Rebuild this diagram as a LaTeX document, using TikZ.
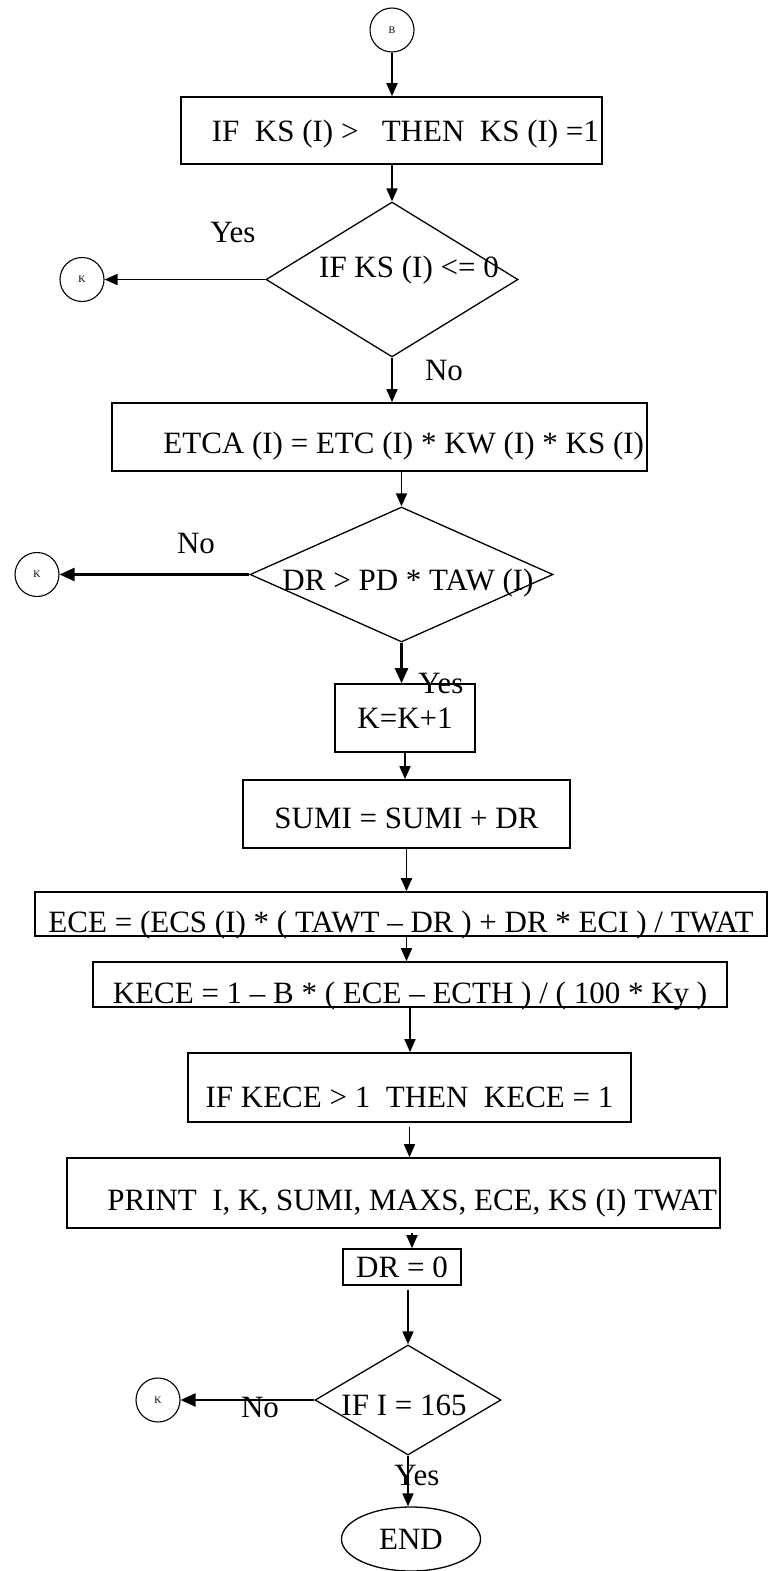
\documentclass[tikz,border=0pt]{standalone}
\usepackage{fontspec}
\setmainfont{Liberation Serif}
\usepackage{tikz}
\usetikzlibrary{shapes.geometric, arrows.meta}

\tikzset{
  procbox/.style={draw, line width=1.6pt, inner xsep=3pt, inner ysep=0pt, text height=21pt, text depth=0pt, font=\fontsize{31}{36}\selectfont},
  decision/.style={draw, diamond, line width=1.3pt, inner sep=0pt},
  conn/.style={draw, circle, line width=1.1pt, minimum size=44pt, inner sep=0pt, font=\fontsize{10}{12}\selectfont},
  lbl/.style={inner sep=0pt, text height=21pt, text depth=0pt, font=\fontsize{31}{36}\selectfont},
  flow/.style={-{Triangle[length=13pt,width=11pt]}, line width=1.6pt},
  boldflow/.style={-{Triangle[length=15pt,width=13pt]}, line width=2.4pt},
}
\newcommand{\rightin}[2]{\makebox[#1][r]{#2}}

\begin{document}
\begin{tikzpicture}[x=1pt, y=-1pt]
  \useasboundingbox (0,0) rectangle (769,1571);
  \node[conn] (conB) at (392,30) {B};
  \node[procbox, minimum width=421pt, minimum height=67pt] (ksmax) at (391.5,130.5) {\rightin{415pt}{IF~~KS (I) >~~~THEN~~KS (I) =1}};
  \node[decision, minimum width=252pt, minimum height=155pt] (ksneg) at (392,279.5) {};
  \node[lbl] (ksnegtxt) at (409,267) {IF KS (I) <= 0};
  \node[conn] (kone) at (82,279.5) {K};
  \node[lbl] (yesone) at (233,232) {Yes};
  \node[lbl] (noone) at (444,370) {No};

  \node[procbox, minimum width=535pt, minimum height=68pt, text height=33pt] (etca) at (379.5,437) {\rightin{529pt}{ETCA (I) = ETC (I) * KW (I) * KS (I)}};
  \node[decision, minimum width=303pt, minimum height=135pt] (drtest) at (401.5,574.5) {};
  \node[lbl] (drtesttxt) at (408,580) {DR > PD * TAW (I)};
  \node[conn] (ktwo) at (37,574.5) {K};
  \node[lbl] (notwo) at (196,543) {No};
  \node[lbl] (yestwo) at (441,683) {Yes};

  \node[procbox, minimum width=140pt, minimum height=68pt] (kinc) at (405,718) {K=K+1};
  \node[procbox, minimum width=327pt, minimum height=68pt, text height=29pt] (sumi) at (406.5,814) {SUMI = SUMI + DR};
  \node[procbox, minimum width=732pt, minimum height=44pt, text height=37pt] (ece) at (401,914) {ECE = (ECS (I) * ( TAWT – DR ) + DR * ECI ) / TWAT};
  \node[procbox, minimum width=634pt, minimum height=45pt, text height=38pt] (kece) at (410,984.5) {KECE = 1 – B * ( ECE – ECTH ) / ( 100 * Ky )};
  \node[procbox, minimum width=443pt, minimum height=69pt, text height=40pt] (kececap) at (409.5,1087.5) {IF KECE > 1~~THEN~~KECE = 1};
  \node[procbox, minimum width=653pt, minimum height=70pt, text height=35pt] (print) at (393.5,1193) {\rightin{647pt}{PRINT~~I, K, SUMI, MAXS, ECE, KS (I) TWAT}};
  \node[procbox, minimum width=118pt, minimum height=36pt] (drzero) at (402,1267) {DR = 0};

  \node[decision, minimum width=186pt, minimum height=110pt] (lastday) at (408,1400) {};
  \node[lbl] (lastdaytxt) at (404,1405) {IF I = 165};
  \node[conn] (kthree) at (158,1400) {K};
  \node[lbl] (nothree) at (260,1407) {No};
  \node[lbl] (yesthree) at (417,1475) {Yes};
  \node[draw, ellipse, line width=1.3pt, inner sep=0pt, minimum width=139pt, minimum height=64pt, font=\fontsize{31}{36}\selectfont] (finish) at (411,1539) {END};

  \draw[flow] (conB.south) -- (conB.south |- ksmax.north);
  \draw[flow] (ksmax.south -| ksneg.north) -- (ksneg.north);
  \draw[flow] (ksneg.west) -- (kone.east);
  \draw[flow] (ksneg.south) -- (ksneg.south |- etca.north);
  \draw[flow] (etca.south -| drtest.north) -- (drtest.north);
  \draw[boldflow] (drtest.west) -- (ktwo.east);
  \draw[boldflow] (drtest.south) -- (drtest.south |- kinc.north);
  \draw[flow] (kinc.south) -- (kinc.south |- sumi.north);
  \draw[flow] (sumi.south) -- (sumi.south |- ece.north);
  \draw[flow] (sumi.south |- ece.south) -- (sumi.south |- kece.north);
  \draw[flow] (kece.south) -- (kece.south |- kececap.north);
  \draw[flow, shorten <=4pt] (kececap.south) -- (kececap.south |- print.north);
  \draw[flow, shorten <=4pt] ([xshift=10pt]drzero.north |- print.south) -- ([xshift=10pt]drzero.north);
  \draw[flow, shorten <=4pt] (drzero.south -| lastday.north) -- (lastday.north);
  \draw[boldflow] (lastday.west) -- (kthree.east);
  \draw[flow] (lastday.south) -- (lastday.south |- finish.north);
\end{tikzpicture}
\end{document}
